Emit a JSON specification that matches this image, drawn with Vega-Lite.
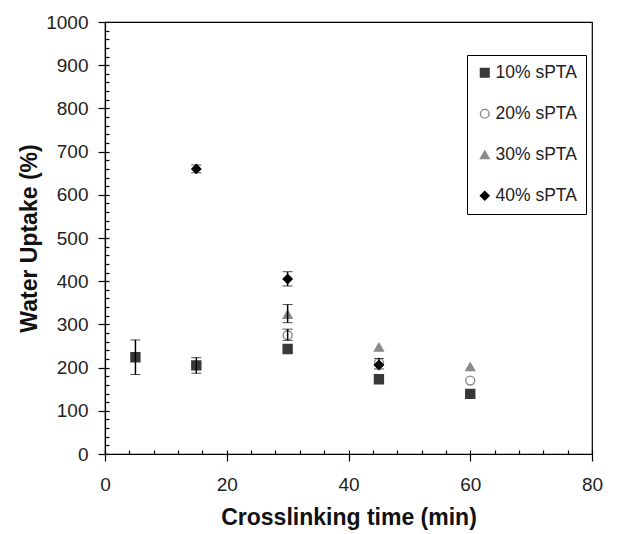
{
  "$schema": "https://vega.github.io/schema/vega-lite/v6.json",
  "width": 487,
  "height": 432,
  "autosize": "none",
  "padding": {"left": 105, "top": 22, "right": 26, "bottom": 80},
  "background": "white",
  "config": {
    "view": {"stroke": "black", "strokeWidth": 1.2},
    "font": "Liberation Sans"
  },
  "data": {
    "values": [
      {"series": "10% sPTA", "time": 5, "value": 224, "lo": 184, "hi": 264},
      {"series": "10% sPTA", "time": 15, "value": 205, "lo": 187, "hi": 223},
      {"series": "10% sPTA", "time": 30, "value": 243, "lo": null, "hi": null},
      {"series": "10% sPTA", "time": 45, "value": 173, "lo": null, "hi": null},
      {"series": "10% sPTA", "time": 60, "value": 139, "lo": null, "hi": null},
      {"series": "20% sPTA", "time": 30, "value": 275, "lo": 263, "hi": 289},
      {"series": "20% sPTA", "time": 45, "value": 211, "lo": null, "hi": null},
      {"series": "20% sPTA", "time": 60, "value": 170, "lo": null, "hi": null},
      {"series": "30% sPTA", "time": 30, "value": 323, "lo": 304, "hi": 346},
      {"series": "30% sPTA", "time": 45, "value": 247, "lo": null, "hi": null},
      {"series": "30% sPTA", "time": 60, "value": 202, "lo": null, "hi": null},
      {"series": "40% sPTA", "time": 15, "value": 660, "lo": 651, "hi": 669},
      {"series": "40% sPTA", "time": 30, "value": 405, "lo": 389, "hi": 422},
      {"series": "40% sPTA", "time": 45, "value": 206, "lo": 197, "hi": 221}
    ]
  },
  "layer": [
    {
      "mark": {"type": "point", "size": 80, "strokeWidth": 1.4, "opacity": 1},
      "encoding": {
        "x": {
          "field": "time", "type": "quantitative",
          "title": "Crosslinking time (min)",
          "scale": {"domain": [0, 80], "nice": false, "zero": false},
          "axis": {"orient": "bottom", "values": [0, 20, 40, 60, 80],
                   "labelOverlap": false, "labelFlush": false,
                   "tickSize": 7, "tickWidth": 1.2, "tickColor": "black",
                   "domainColor": "black", "domainWidth": 1.2, "grid": false,
                   "labelFontSize": 19, "labelColor": "#222", "labelPadding": 14,
                   "titleFontSize": 23, "titleFontWeight": "bold", "titleColor": "#111", "titlePadding": 12}
        },
        "y": {
          "field": "value", "type": "quantitative",
          "title": "Water Uptake (%)",
          "scale": {"domain": [0, 1000], "nice": false},
          "axis": {"orient": "left", "values": [0,100,200,300,400,500,600,700,800,900,1000],
                   "format": "d", "labelOverlap": false, "labelFlush": false,
                   "tickSize": 7, "tickWidth": 1.2, "tickColor": "black",
                   "domainColor": "black", "domainWidth": 1.2, "grid": false,
                   "labelFontSize": 19, "labelColor": "#222", "labelPadding": 10,
                   "titleFontSize": 23, "titleFontWeight": "bold", "titleColor": "#111", "titlePadding": 4}
        },
        "shape": {
          "field": "series", "type": "nominal",
          "scale": {"domain": ["10% sPTA", "20% sPTA", "30% sPTA", "40% sPTA"], "range": ["square", "circle", "triangle-up", "diamond"]},
          "legend": {"orient": "none", "legendX": 362, "legendY": 33, "title": null,
                     "strokeColor": "black", "padding": 9, "rowPadding": 22,
                     "labelFontSize": 17.5, "labelColor": "#222", "symbolSize": 75, "labelOffset": 2, "symbolStrokeWidth": 1.4}
        },
        "fill": {
          "field": "series", "type": "nominal",
          "scale": {"domain": ["10% sPTA", "20% sPTA", "30% sPTA", "40% sPTA"], "range": ["#383838", "#ffffff", "#8a8a8a", "#000000"]},
          "legend": {"orient": "none", "legendX": 362, "legendY": 33, "title": null,
                     "strokeColor": "black", "padding": 9, "rowPadding": 22,
                     "labelFontSize": 17.5, "labelColor": "#222", "symbolSize": 75, "labelOffset": 2, "symbolStrokeWidth": 1.4}
        },
        "stroke": {
          "field": "series", "type": "nominal",
          "scale": {"domain": ["10% sPTA", "20% sPTA", "30% sPTA", "40% sPTA"], "range": ["#383838", "#888888", "#8a8a8a", "#000000"]},
          "legend": {"orient": "none", "legendX": 362, "legendY": 33, "title": null,
                     "strokeColor": "black", "padding": 9, "rowPadding": 22,
                     "labelFontSize": 17.5, "labelColor": "#222", "symbolSize": 75, "labelOffset": 2, "symbolStrokeWidth": 1.4}
        }
      }
    },
    {
      "transform": [{"filter": "datum.lo != null"}],
      "mark": {"type": "errorbar", "ticks": {"size": 10, "color": "black", "strokeWidth": 1.5}, "rule": {"color": "black", "strokeWidth": 1.5}},
      "encoding": {
        "x": {"field": "time", "type": "quantitative",
              "scale": {"domain": [0, 80], "nice": false, "zero": false},
              "axis": {"orient": "bottom", "values": [0,4,8,12,16,20,24,28,32,36,40,44,48,52,56,60,64,68,72,76,80],
                       "tickSize": -4, "tickWidth": 1.2, "tickColor": "black", "labels": false, "domain": false, "title": null, "grid": false, "offset": 0, "zindex": 1}},
        "y": {"field": "lo", "type": "quantitative",
              "scale": {"domain": [0, 1000], "nice": false},
              "axis": {"orient": "left", "values": [0,20,40,60,80,100,120,140,160,180,200,220,240,260,280,300,320,340,360,380,400,420,440,460,480,500,520,540,560,580,600,620,640,660,680,700,720,740,760,780,800,820,840,860,880,900,920,940,960,980,1000],
                       "tickSize": -4, "tickWidth": 1.2, "tickColor": "black", "labels": false, "domain": false, "title": null, "grid": false, "offset": 0, "zindex": 1}},
        "y2": {"field": "hi"}
      }
    }
  ],
  "resolve": {"axis": {"x": "independent", "y": "independent"}}
}
